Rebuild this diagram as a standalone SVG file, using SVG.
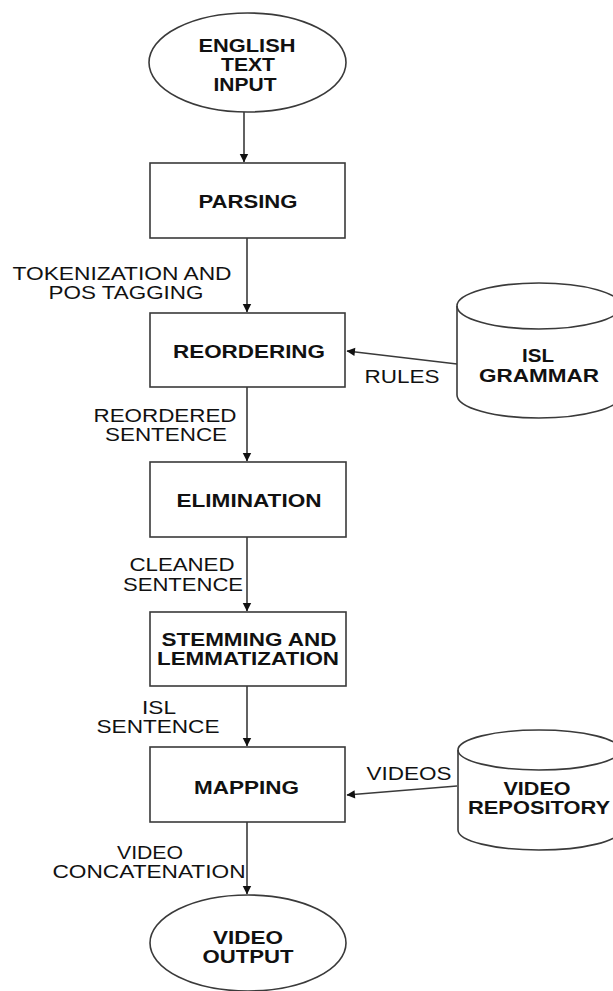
<svg xmlns="http://www.w3.org/2000/svg" width="613" height="991" viewBox="0 0 613 991">
  <style>
    .shape { fill: #ffffff; stroke: #3a3a3a; stroke-width: 1.6; }
    .edge { fill: none; stroke: #3a3a3a; stroke-width: 1.6; }
    .t { font-family: "Liberation Sans", Arial, sans-serif; font-size: 18px; fill: #111111; text-anchor: middle; }
    .b { font-weight: bold; }
  </style>
  <defs>
    <marker id="arrow" viewBox="0 0 10 10" refX="9" refY="5" markerWidth="6" markerHeight="6" markerUnits="userSpaceOnUse" orient="auto" overflow="visible">
      <path d="M0,0 L10,5 L0,10 Z" fill="#111111" transform="scale(1.4) translate(-3,-1.4)"/>
    </marker>
  </defs>
  <rect width="613" height="991" fill="#ffffff"/>

  <!-- connectors and their labels -->
  <g id="connectors">
    <line class="edge" x1="244" y1="112" x2="244" y2="162" marker-end="url(#arrow)"/>
    <line class="edge" x1="247" y1="238" x2="247" y2="312" marker-end="url(#arrow)"/>
    <line class="edge" x1="247" y1="387" x2="247" y2="461" marker-end="url(#arrow)"/>
    <line class="edge" x1="247" y1="537" x2="247" y2="611" marker-end="url(#arrow)"/>
    <line class="edge" x1="247" y1="686" x2="247" y2="746" marker-end="url(#arrow)"/>
    <line class="edge" x1="247" y1="822" x2="247" y2="894" marker-end="url(#arrow)"/>
    <line class="edge" x1="457" y1="364" x2="347" y2="351" marker-end="url(#arrow)"/>
    <line class="edge" x1="457" y1="786" x2="347" y2="795" marker-end="url(#arrow)"/>
    <text class="t" x="122" y="280" textLength="219" lengthAdjust="spacingAndGlyphs">TOKENIZATION AND</text>
    <text class="t" x="126" y="299" textLength="155" lengthAdjust="spacingAndGlyphs">POS TAGGING</text>
    <text class="t" x="402" y="383" textLength="75" lengthAdjust="spacingAndGlyphs">RULES</text>
    <text class="t" x="165" y="422" textLength="143" lengthAdjust="spacingAndGlyphs">REORDERED</text>
    <text class="t" x="166" y="441" textLength="122" lengthAdjust="spacingAndGlyphs">SENTENCE</text>
    <text class="t" x="182" y="571" textLength="105" lengthAdjust="spacingAndGlyphs">CLEANED</text>
    <text class="t" x="183" y="591" textLength="120" lengthAdjust="spacingAndGlyphs">SENTENCE</text>
    <text class="t" x="159" y="714" textLength="34" lengthAdjust="spacingAndGlyphs">ISL</text>
    <text class="t" x="158" y="733" textLength="123" lengthAdjust="spacingAndGlyphs">SENTENCE</text>
    <text class="t" x="409" y="780" textLength="85" lengthAdjust="spacingAndGlyphs">VIDEOS</text>
    <text class="t" x="150" y="859" textLength="66" lengthAdjust="spacingAndGlyphs">VIDEO</text>
    <text class="t" x="149" y="878" textLength="193" lengthAdjust="spacingAndGlyphs">CONCATENATION</text>
  </g>

  <g id="english-text-input">
    <ellipse class="shape" cx="247.5" cy="62.5" rx="98.5" ry="49.5"/>
    <text class="t b" x="247" y="52" textLength="97" lengthAdjust="spacingAndGlyphs">ENGLISH</text>
    <text class="t b" x="248" y="71" textLength="54" lengthAdjust="spacingAndGlyphs">TEXT</text>
    <text class="t b" x="245" y="91" textLength="63" lengthAdjust="spacingAndGlyphs">INPUT</text>
  </g>

  <g id="parsing">
    <rect class="shape" x="150" y="163" width="195" height="75"/>
    <text class="t b" x="248" y="208" textLength="99" lengthAdjust="spacingAndGlyphs">PARSING</text>
  </g>

  <g id="reordering">
    <rect class="shape" x="150" y="313" width="195" height="74"/>
    <text class="t b" x="249" y="358" textLength="152" lengthAdjust="spacingAndGlyphs">REORDERING</text>
  </g>

  <g id="isl-grammar">
    <path class="shape" d="M457,306 L457,395 A82,23 0 0 0 621,395 L621,306 A82,23 0 0 0 457,306 Z"/>
    <path class="edge" d="M457,306 A82,23 0 0 0 621,306"/>
    <text class="t b" x="538" y="362" textLength="32" lengthAdjust="spacingAndGlyphs">ISL</text>
    <text class="t b" x="539" y="382" textLength="120" lengthAdjust="spacingAndGlyphs">GRAMMAR</text>
  </g>

  <g id="elimination">
    <rect class="shape" x="150" y="462" width="196" height="75"/>
    <text class="t b" x="249" y="507" textLength="145" lengthAdjust="spacingAndGlyphs">ELIMINATION</text>
  </g>

  <g id="stemming-and-lemmatization">
    <rect class="shape" x="150" y="612" width="196" height="74"/>
    <text class="t b" x="249" y="646" textLength="175" lengthAdjust="spacingAndGlyphs">STEMMING AND</text>
    <text class="t b" x="248" y="665" textLength="182" lengthAdjust="spacingAndGlyphs">LEMMATIZATION</text>
  </g>

  <g id="mapping">
    <rect class="shape" x="150" y="747" width="195" height="75"/>
    <text class="t b" x="246.5" y="794" textLength="105" lengthAdjust="spacingAndGlyphs">MAPPING</text>
  </g>

  <g id="video-repository">
    <path class="shape" d="M458,750 L458,830 A81,20 0 0 0 620,830 L620,750 A81,20 0 0 0 458,750 Z"/>
    <path class="edge" d="M458,750 A81,20 0 0 0 620,750"/>
    <text class="t b" x="537" y="795" textLength="67" lengthAdjust="spacingAndGlyphs">VIDEO</text>
    <text class="t b" x="539" y="814" textLength="142" lengthAdjust="spacingAndGlyphs">REPOSITORY</text>
  </g>

  <g id="video-output">
    <ellipse class="shape" cx="248" cy="943" rx="98" ry="48"/>
    <text class="t b" x="248" y="944" textLength="70" lengthAdjust="spacingAndGlyphs">VIDEO</text>
    <text class="t b" x="248" y="963" textLength="91" lengthAdjust="spacingAndGlyphs">OUTPUT</text>
  </g>
</svg>
